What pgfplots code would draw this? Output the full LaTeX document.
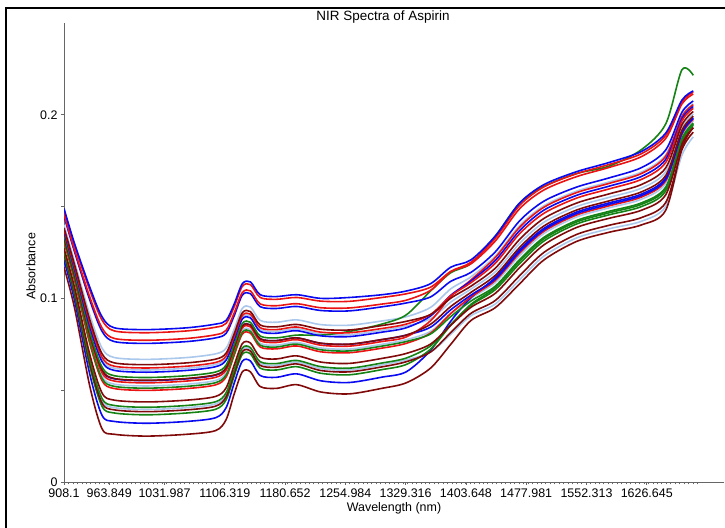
\documentclass[border=0pt]{standalone}
\usepackage{fontspec}
\setmainfont{Liberation Sans}
\usepackage{pgfplots}
\usepackage{pgfplotstable}
\pgfplotsset{compat=1.18}
\definecolor{cblue}{RGB}{10,10,240}
\definecolor{cred}{RGB}{235,20,20}
\definecolor{cgreen}{RGB}{20,130,20}
\definecolor{cdred}{RGB}{128,10,10}
\definecolor{clblue}{RGB}{170,200,235}

\pgfplotstableread{
lam A B C D E F G H I J K L M N O P Q R S T U V W
908.1 .149 .1480 .1458 .1448 .1400 .1384 .1375 .1362 .1368 .1346 .1331 .133 .1336 .132 .1314 .1308 .1272 .1256 .125 .1244 .1234 .1208 .117
921 .130 .1290 .1265 .1255 .1202 .1185 .1174 .116 .1167 .1143 .1128 .1125 .1132 .1115 .1108 .1101 .1062 .1045 .1038 .1031 .102 .0992 .095
940 .106 .1044 .1006 .0990 .0909 .0882 .0866 .0844 .0855 .0817 .0802 .079 .0801 .0774 .0763 .0752 .0693 .0666 .0655 .0644 .0628 .0585 .052
955 .090 .0882 .0839 .0821 .0729 .0699 .0680 .0656 .0668 .0626 .0611 .0595 .0607 .0577 .0565 .0552 .0485 .0455 .0443 .043 .0412 .0363 .029
970 .084 .0823 .0782 .0765 .0678 .0649 .0631 .0608 .062 .0579 .0564 .055 .0562 .0533 .0521 .0509 .0446 .0417 .0405 .0393 .0376 .033 .026
1010 .083 .0813 .0772 .0755 .0668 .0639 .0621 .0598 .061 .0569 .0554 .054 .0552 .0523 .0511 .0499 .0436 .0407 .0395 .0383 .0366 .032 .025
1060 .084 .0823 .0782 .0765 .0678 .0649 .0631 .0608 .062 .0579 .0564 .055 .0562 .0533 .0521 .0509 .0446 .0417 .0405 .0393 .0376 .033 .026
1095 .086 .0843 .0802 .0785 .0698 .0669 .0651 .0628 .064 .0599 .0584 .057 .0582 .0553 .0541 .0529 .0466 .0437 .0425 .0413 .0396 .035 .028
1108 .088 .0864 .0826 .0810 .0729 .0702 .0686 .0664 .0675 .0637 .0622 .061 .0621 .0594 .0583 .0572 .0513 .0486 .0475 .0464 .0448 .0405 .034
1118 .097 .0955 .0921 .0906 .0833 .0808 .0794 .0774 .0784 .075 .0735 .0725 .0735 .071 .0701 .0691 .0637 .0612 .0603 .0593 .0578 .0539 .048
1128 .108 .1066 .1032 .1018 .0946 .0922 .0907 .0888 .0898 .0864 .0849 .084 .085 .0826 .0816 .0806 .0754 .073 .072 .071 .0696 .0658 .060
1138 .109 .1075 .1041 .1026 .0953 .0928 .0914 .0894 .0904 .087 .0855 .0845 .0855 .083 .0821 .0811 .0757 .0732 .0723 .0713 .0698 .0659 .060
1150 .102 .1005 .097 .0955 .088 .0855 .084 .082 .083 .0795 .078 .077 .078 .0755 .0745 .0735 .068 .0655 .0645 .0635 .062 .058 .052
1170 .101 .0995 .096 .0945 .087 .0845 .083 .081 .082 .0785 .077 .076 .077 .0745 .0735 .0725 .067 .0645 .0635 .0625 .061 .057 .051
1195 .102 .1005 .0971 .0956 .0883 .0858 .0844 .0824 .0834 .080 .0785 .0775 .0785 .076 .0751 .0741 .0687 .0662 .0653 .0643 .0628 .0589 .053
1225 .100 .0985 .0949 .0934 .0857 .0832 .0816 .0796 .0806 .080 .0756 .0745 .0755 .073 .072 .0709 .0653 .0628 .0618 .0607 .0592 .0551 .049
1260 .1005 .0984 .0948 .0932 .0854 .0828 .0813 .0792 .0802 .082 .0751 .074 .075 .0724 .0714 .0704 .0646 .062 .061 .060 .0584 .0542 .048
1300 .102 .1005 .0969 .0954 .0877 .0852 .0836 .0816 .0826 .086 .0776 .0765 .0775 .075 .074 .0729 .0673 .0648 .0638 .0627 .0612 .0571 .051
1330 .104 .1025 .099 .0975 .090 .0875 .086 .084 .085 .091 .080 .079 .080 .0775 .0765 .0755 .070 .0675 .0665 .0655 .064 .060 .054
1360 .108 .1061 .1044 .1008 .0951 .0912 .0912 .0904 .0889 .104 .0859 .0878 .0843 .082 .0806 .0811 .0751 .0741 .0707 .0708 .0723 .0717 .062
1385 .117 .1147 .1146 .1093 .1052 .1001 .1014 .1017 .098 .114 .0956 .101 .0938 .0917 .0901 .0918 .0854 .0858 .0805 .0814 .0854 .0876 .075
1410 .121 .1189 .1197 .1142 .1118 .1067 .1086 .1095 .1051 .119 .1033 .1101 .1018 .1001 .0986 .1008 .0952 .0963 .0906 .0919 .0968 .1004 .088
1440 .134 .1313 .1328 .1254 .1231 .1165 .1192 .1207 .1145 .134 .1126 .1223 .1106 .1087 .1067 .1098 .1028 .1048 .097 .0989 .1059 .1114 .095
1470 .152 .1489 .1507 .1423 .1397 .1322 .1353 .137 .130 .152 .1278 .1388 .1256 .1234 .1212 .1247 .1168 .119 .1102 .1124 .1203 .1265 .108
1500 .162 .1591 .1608 .1530 .1505 .1436 .1464 .1481 .1415 .161 .1395 .1497 .1374 .1354 .1333 .1366 .1292 .1313 .1231 .1251 .1325 .1382 .121
1540 .169 .1663 .1679 .1606 .1584 .1519 .1546 .1561 .150 .168 .1481 .1576 .1462 .1443 .1424 .1454 .1386 .1405 .1329 .1348 .1416 .147 .131
1580 .174 .1713 .1729 .1656 .1634 .1569 .1596 .1611 .155 .172 .1531 .1626 .1512 .1493 .1474 .1504 .1436 .1455 .1379 .1398 .1466 .152 .136
1620 .180 .1772 .1788 .1712 .1688 .162 .1648 .1664 .160 .181 .158 .168 .156 .154 .152 .1552 .148 .150 .142 .144 .1512 .1568 .140
1650 .190 .1871 .1887 .1808 .1782 .1711 .174 .1757 .169 .195 .1669 .1774 .1648 .1627 .1606 .164 .1564 .1585 .1501 .1522 .1598 .1656 .148
1670 .208 .2059 .2071 .2014 .1996 .1945 .1966 .1978 .193 .2245 .1915 .199 .190 .1885 .187 .1894 .184 .1855 .178 .181 .1864 .1906 .182
1684 .213 .2113 .2123 .2075 .206 .2018 .2035 .2045 .2005 .2215 .1993 .2055 .198 .1968 .1955 .1975 .193 .1943 .188 .1905 .195 .1985 .193
}\spectra

\begin{document}
\begin{tikzpicture}
\path[use as bounding box] (0,0) rectangle (725bp,528bp);
\begin{axis}[
  at={(64bp,46bp)}, anchor=south west,
  scale only axis, width=660bp, height=459bp,
  xmin=908.1, xmax=1721.9, ymin=0, ymax=0.25,
  axis x line=bottom, axis y line=left,
  axis line style={-, draw=black!60, line width=0.8bp},
  xtick={908.1,963.849,1031.987,1106.319,1180.652,1254.984,1329.316,1403.648,1477.981,1552.313,1626.645},
  xticklabels={908.1,963.849,1031.987,1106.319,1180.652,1254.984,1329.316,1403.648,1477.981,1552.313,1626.645},
  minor xtick={908.1,913.6,...,1690},
  ytick={0,0.1,0.2}, yticklabels={0,0.1,0.2},
  minor ytick={0.05,0.15},
  tick align=outside,
  major tick length=3bp, minor tick length=2.5bp,
  tick style={black!60, line width=0.6bp},
  tick label style={font=\fontsize{12.5}{14}\selectfont, black},
  xlabel={Wavelength (nm)},
  xlabel style={font=\fontsize{12.5}{14}\selectfont, at={(axis description cs:0.5,-0.0566)}, anchor=center},
  ylabel={Absorbance},
  ylabel style={font=\fontsize{12.5}{14}\selectfont, at={(axis description cs:-0.05,0.47)}, anchor=center, rotate=0},
  every axis plot/.append style={line width=1.6bp, line join=round, no markers, smooth, tension=0.5},
]
\addplot[clblue] table[x=lam, y=E] {\spectra};
\addplot[clblue] table[x=lam, y=I] {\spectra};
\addplot[clblue] table[x=lam, y=N] {\spectra};
\addplot[clblue] table[x=lam, y=S] {\spectra};
\addplot[cdred] table[x=lam, y=W] {\spectra};
\addplot[cblue] table[x=lam, y=V] {\spectra};
\addplot[cgreen] table[x=lam, y=U] {\spectra};
\addplot[cdred] table[x=lam, y=T] {\spectra};
\addplot[cgreen] table[x=lam, y=R] {\spectra};
\addplot[cdred] table[x=lam, y=Q] {\spectra};
\addplot[cred] table[x=lam, y=P] {\spectra};
\addplot[cgreen] table[x=lam, y=O] {\spectra};
\addplot[cblue] table[x=lam, y=M] {\spectra};
\addplot[cred] table[x=lam, y=L] {\spectra};
\addplot[cdred] table[x=lam, y=K] {\spectra};
\addplot[cgreen] table[x=lam, y=J] {\spectra};
\addplot[cblue] table[x=lam, y=H] {\spectra};
\addplot[cred] table[x=lam, y=G] {\spectra};
\addplot[cdred] table[x=lam, y=F] {\spectra};
\addplot[cblue] table[x=lam, y=D] {\spectra};
\addplot[cred] table[x=lam, y=C] {\spectra};
\addplot[cred] table[x=lam, y=B] {\spectra};
\addplot[cblue] table[x=lam, y=A] {\spectra};
\end{axis}
\node[font=\fontsize{13.5}{15}\selectfont] at (383bp,511bp) {NIR Spectra of Aspirin};
\draw[black, line width=2bp] (6bp,0) -- (6bp,520bp) -- (725bp,520bp);
\end{tikzpicture}
\end{document}
